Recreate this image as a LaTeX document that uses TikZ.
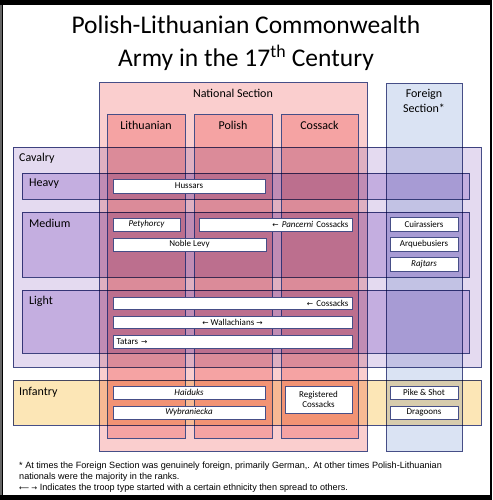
\documentclass[tikz,border=0pt]{standalone}
\usepackage{fontspec}
\setmainfont{Carlito}
\newfontfamily\arr{DejaVu Sans}
\newfontfamily\fnfont{Liberation Sans}
\definecolor{bord}{RGB}{70,78,135}
\definecolor{natc}{RGB}{250,206,206}
\definecolor{colc}{RGB}{245,163,163}
\definecolor{forc}{RGB}{218,227,243}
\definecolor{cavc}{RGB}{228,218,240}
\definecolor{subc}{RGB}{220,204,238}
\definecolor{infc}{RGB}{252,230,182}
\tikzset{
  area/.style={draw=bord, line width=0.6pt, anchor=north west, inner sep=0pt, outer sep=0pt},
  wbox/.style={draw=bord, line width=0.6pt, fill=white, inner sep=0pt, font=\fontsize{9}{10}\selectfont},
  lbl/.style={font=\fontsize{12}{13}\selectfont, inner sep=0pt},
}
\newcommand{\la}{{\arr\fontsize{7.5}{8}\selectfont ←}}
\newcommand{\ra}{{\arr\fontsize{7.5}{8}\selectfont →}}
\begin{document}
\begin{tikzpicture}[x=1pt,y=-1pt]
\useasboundingbox (0,0) rectangle (492,500);
\fill[black] (0,0) rectangle (492,500);
\fill[white] (3,5) rectangle (490,495);
\fill[black!60] (0,5) rectangle (2,495);
% title
\node[font=\fontsize{25.5}{28}\selectfont, inner sep=0pt] (t1) at (246,25) {Polish-Lithuanian Commonwealth};
\node[font=\fontsize{25.5}{28}\selectfont, inner sep=0pt] (t2) at (246,58) {Army in the 17\textsuperscript{th} Century};
% sections
\node[area, fill=natc, minimum width=268pt, minimum height=369pt] (nat) at (99,82) {};
\node[area, fill=forc, minimum width=76pt, minimum height=368pt] (for) at (386,83) {};
\node[area, fill=colc, minimum width=78pt, minimum height=324pt] (lit) at (107,114) {};
\node[area, fill=colc, minimum width=78pt, minimum height=324pt] (pol) at (194,114) {};
\node[area, fill=colc, minimum width=77pt, minimum height=324pt] (cos) at (281,114) {};
% overlays
\begin{scope}[blend mode=multiply]
\node[area, fill=cavc, minimum width=468pt, minimum height=220pt] (cav) at (13,147) {};
\node[area, fill=subc, minimum width=447pt, minimum height=26pt] (hea) at (22,173) {};
\node[area, fill=subc, minimum width=447pt, minimum height=65pt] (med) at (22,212) {};
\node[area, fill=subc, minimum width=447pt, minimum height=63pt] (lig) at (22,290) {};
\node[area, fill=infc, minimum width=468pt, minimum height=45pt] (inf) at (13,380) {};
\end{scope}
% labels
\node[lbl] (natl) at (233,93) {National Section};
\node[lbl, align=center, font=\fontsize{12}{14.5}\selectfont] (forl) at (424,101) {Foreign\\Section*};
\node[lbl] (litl) at (146,125) {Lithuanian};
\node[lbl] (poll) at (233,125) {Polish};
\node[lbl] (cosl) at (319.5,125) {Cossack};
\node[lbl, anchor=west] (cavl) at (19,158) {Cavalry};
\node[lbl, anchor=west] (heal) at (29,184) {Heavy};
\node[lbl, anchor=west] (medl) at (29,223) {Medium};
\node[lbl, anchor=west] (ligl) at (29,301) {Light};
\node[lbl, anchor=west] (infl) at (19,392) {Infantry};
% white boxes
\node[wbox, minimum width=152pt, minimum height=14pt] (hus) at (189,186) {Hussars};
\node[wbox, minimum width=67pt, minimum height=13pt] (pet) at (146.5,224.5) {\itshape Petyhorcy};
\node[wbox, minimum width=153pt, minimum height=13pt, text width=146pt, align=right] (pan) at (275.5,224.5) {\la{} \textit{Pancerni} Cossacks};
\node[wbox, minimum width=153pt, minimum height=13pt] (nob) at (189.5,244.5) {Noble Levy};
\node[wbox, minimum width=68pt, minimum height=14pt] (cui) at (424,224) {Cuirassiers};
\node[wbox, minimum width=68pt, minimum height=14pt] (arq) at (424,244) {Arquebusiers};
\node[wbox, minimum width=68pt, minimum height=14pt] (raj) at (424,264) {\itshape Rajtars};
\node[wbox, minimum width=239pt, minimum height=12pt, text width=232pt, align=right] (lco) at (232.5,303) {\la{} Cossacks};
\node[wbox, minimum width=239pt, minimum height=12pt] (wal) at (232.5,322) {\la{} Wallachians \ra};
\node[wbox, minimum width=239pt, minimum height=13pt, text width=232pt, align=left] (tat) at (232.5,341.5) {Tatars \ra};
\node[wbox, minimum width=152pt, minimum height=13pt] (hai) at (189,392.5) {\itshape Haiduks};
\node[wbox, minimum width=152pt, minimum height=13pt] (wyb) at (189,412.5) {\itshape Wybraniecka};
\node[wbox, minimum width=67pt, minimum height=27pt, align=center] (reg) at (318.5,399.5) {Registered\\Cossacks};
\node[wbox, minimum width=68pt, minimum height=13pt] (pik) at (424,392.5) {Pike \& Shot};
\node[wbox, minimum width=68pt, minimum height=13pt] (dra) at (424,412.5) {Dragoons};
% footnote
\node[anchor=north west, align=left, inner sep=0pt, font=\fnfont\fontsize{9.1}{11}\selectfont] (fn) at (19,462)
{* At times the Foreign Section was genuinely foreign, primarily German,. At other times Polish-Lithuanian\\
nationals were the majority in the ranks.\\
{\arr\fontsize{7}{8}\selectfont ⟵ →} Indicates the troop type started with a certain ethnicity then spread to others.};
\end{tikzpicture}
\end{document}
